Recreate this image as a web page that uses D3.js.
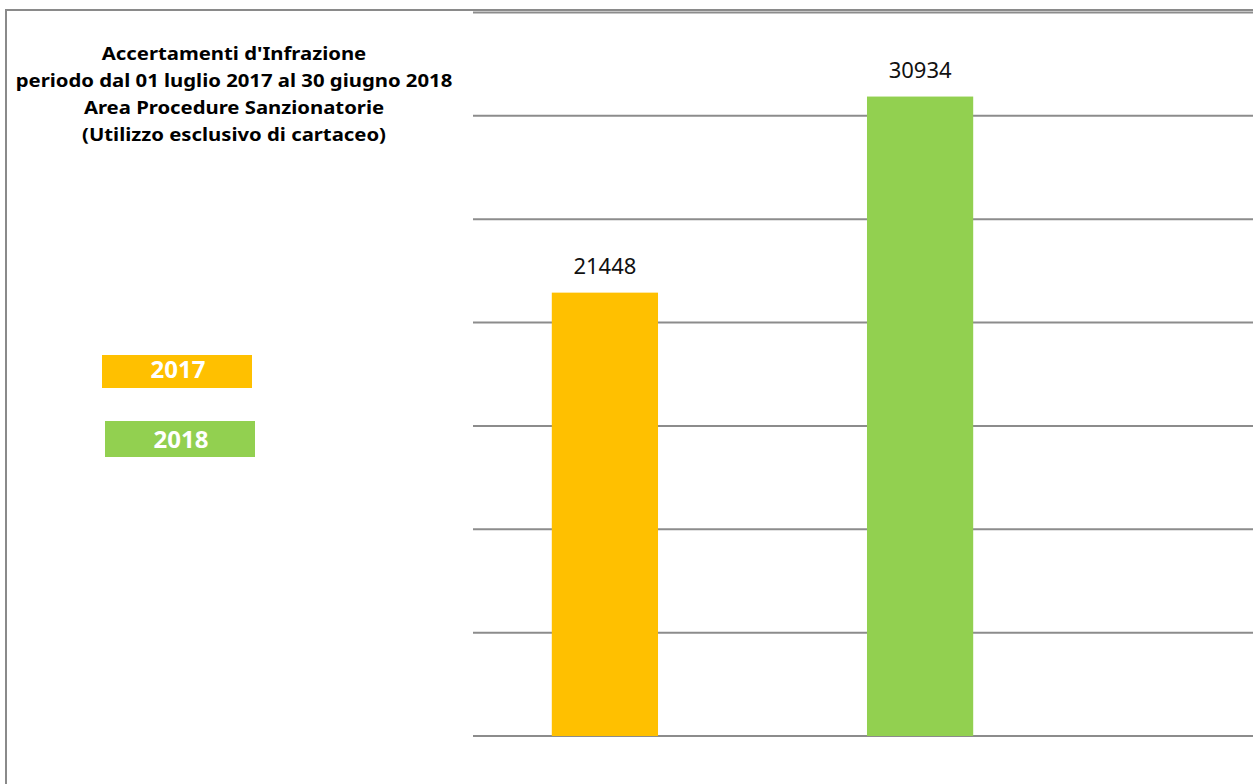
<!DOCTYPE html>
<html>
<head>
<meta charset="utf-8">
<script src="https://cdn.jsdelivr.net/npm/d3@7"></script>
<style>
  html, body { margin: 0; padding: 0; background: #fff; }
  svg { display: block; }
</style>
</head>
<body>
<svg id="chart" width="1253" height="784"></svg>
<script>
// Chart data
const categories = ["2017", "2018"];
const values = [21448, 30934];
const colors = ["#FFC000", "#92D050"];
const gridTicks = [0, 5000, 10000, 15000, 20000, 25000, 30000, 35000];
const titleLines = [
  "Accertamenti d'Infrazione",
  "periodo dal 01 luglio 2017 al 30 giugno 2018",
  "Area Procedure Sanzionatorie",
  "(Utilizzo esclusivo di cartaceo)"
];

const svg = d3.select("#chart");
const font = "'Noto Sans', 'Open Sans', sans-serif";

// Outer frame (top and left edges visible)
svg.append("line").attr("x1", 5).attr("x2", 1253).attr("y1", 10).attr("y2", 10)
  .attr("stroke", "#8a8a8a").attr("stroke-width", 2);
svg.append("line").attr("x1", 6).attr("x2", 6).attr("y1", 9).attr("y2", 784)
  .attr("stroke", "#8a8a8a").attr("stroke-width", 2);

// Scales
const y = d3.scaleLinear().domain([0, 35000]).range([736, 12.5]);
const x = d3.scaleBand().domain(categories).range([473, 1052])
  .paddingInner(0.663).paddingOuter(0.25);

// Horizontal gridlines
svg.append("g").selectAll("line").data(gridTicks).join("line")
  .attr("x1", 473).attr("x2", 1253)
  .attr("y1", d => y(d)).attr("y2", d => y(d))
  .attr("stroke", "#8c8c8c").attr("stroke-width", 2);

// Bars
svg.append("g").selectAll("rect").data(values).join("rect")
  .attr("x", (d, i) => x(categories[i]))
  .attr("width", x.bandwidth())
  .attr("y", d => y(d))
  .attr("height", d => y(0) - y(d))
  .attr("fill", (d, i) => colors[i]);

// Value labels
svg.append("g").selectAll("text").data(values).join("text")
  .attr("x", (d, i) => x(categories[i]) + x.bandwidth() / 2)
  .attr("y", d => y(d) - 18.5)
  .attr("text-anchor", "middle")
  .attr("font-family", font)
  .attr("font-size", 22)
  .attr("fill", "#111")
  .text(d => d);

// Title block: narrow the lines horizontally so the longest spans 437px
const titleCx = 234;
const title = svg.append("g");
title.selectAll("text").data(titleLines).join("text")
  .attr("x", 0)
  .attr("y", (d, i) => 60 + i * 27)
  .attr("text-anchor", "middle")
  .attr("font-family", font)
  .attr("font-weight", "bold")
  .attr("font-size", 18.5)
  .attr("fill", "#000")
  .text(d => d);
const len = title.selectAll("text").nodes()[1].getComputedTextLength();
title.attr("transform", `translate(${titleCx},0) scale(${437 / len},1)`);

// Legend boxes
const legendBoxes = [
  { x: 102, y: 355, w: 150, h: 33, base: 377.7 },
  { x: 105, y: 421, w: 150, h: 36, base: 448 }
];
const legend = svg.append("g");
categories.forEach((c, i) => {
  const b = legendBoxes[i];
  legend.append("rect").attr("x", b.x).attr("y", b.y).attr("width", b.w).attr("height", b.h)
    .attr("fill", colors[i]);
  legend.append("text")
    .attr("x", b.x + b.w / 2 + 1).attr("y", b.base)
    .attr("text-anchor", "middle")
    .attr("font-family", font).attr("font-weight", "bold").attr("font-size", 24)
    .attr("fill", "#fff").text(c);
});
</script>
</body>
</html>
